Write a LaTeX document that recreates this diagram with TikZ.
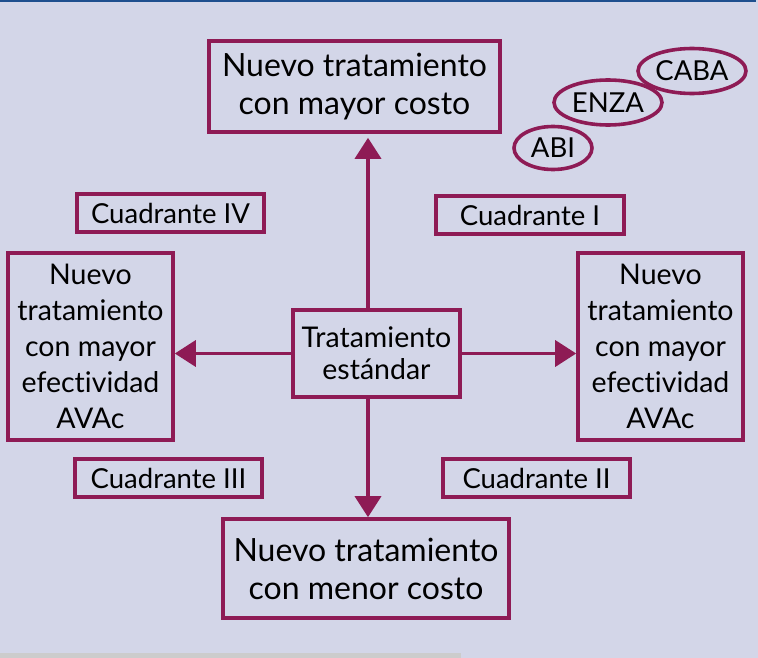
\documentclass[tikz,border=0pt]{standalone}
\usepackage{fontspec}
\setmainfont{Lato}[Ligatures=CommonOff]
\usetikzlibrary{arrows.meta,calc}
\definecolor{bgc}{HTML}{D3D6E8}
\definecolor{brd}{HTML}{8E1B55}
\definecolor{topblue}{HTML}{1E4F8E}
\begin{document}
\begin{tikzpicture}[x=1pt,y=-1pt,
  box/.style={draw=brd,line width=3.6pt,align=center,inner sep=0pt,text=black},
  bigtxt/.style={font=\fontsize{32}{38}\selectfont},
  midtxt/.style={font=\fontsize{28.5}{36}\selectfont},
  cuadtxt/.style={font=\fontsize{27.5}{30}\selectfont},
  ovaltxt/.style={font=\fontsize{27.5}{30}\selectfont},
  arr/.style={draw=brd,line width=3.6pt,-{Triangle[length=21pt,width=26pt]}}]
\useasboundingbox (0,0) rectangle (758,658);
\fill[bgc] (0,0) rectangle (758,658);
\fill[topblue] (0,0) rectangle (756,2.5);
\fill[black!20] (0,653) rectangle (461,658);
% boxes
\node[box,bigtxt,minimum width=291pt,minimum height=91pt] (t) at (354.5,86.5) {Nuevo tratamiento\\con mayor costo};
\node[box,cuadtxt,minimum width=187pt,minimum height=38pt] (q4) at (170.5,213) {Cuadrante IV};
\node[box,cuadtxt,minimum width=188pt,minimum height=38pt] (q1) at (530,215) {Cuadrante I};
\node[box,midtxt,minimum width=165pt,minimum height=187pt] (l) at (90.5,346.5) {Nuevo\\tratamiento\\con mayor\\efectividad\\AVAc};
\node[box,midtxt,minimum width=165pt,minimum height=187pt] (r) at (660.5,346.5) {Nuevo\\tratamiento\\con mayor\\efectividad\\AVAc};
\node[box,font=\fontsize{28.5}{32}\selectfont,minimum width=167pt,minimum height=87pt] (c) at (376.5,353.5) {Tratamiento\\estándar};
\node[box,cuadtxt,minimum width=187pt,minimum height=38pt] (q3) at (168.5,478) {Cuadrante III};
\node[box,cuadtxt,minimum width=187pt,minimum height=38pt] (q2) at (536.5,478) {Cuadrante II};
\node[box,bigtxt,minimum width=286pt,minimum height=99pt] (b) at (366,568.5) {Nuevo tratamiento\\con menor costo};
% ovals
\draw[brd,line width=3.6pt] (692,71) ellipse [x radius=54pt,y radius=22.5pt];
\node[ovaltxt] (caba) at (692,71) {CABA};
\draw[brd,line width=3.6pt] (608,102.5) ellipse [x radius=54pt,y radius=22.5pt];
\node[ovaltxt] (enza) at (608,102.5) {ENZA};
\draw[brd,line width=3.6pt] (553,148) ellipse [x radius=39pt,y radius=21.5pt];
\node[ovaltxt] (abi) at (553,148) {ABI};
% arrows
\coordinate (vx) at (368,0);
\draw[arr] (c.north -| vx) -- ($(t.south -| vx)+(0,4)$);
\draw[arr] (c.south -| vx) -- (b.north -| vx);
\draw[arr] (c.west) -- (l.east |- c.west);
\draw[arr] (c.east) -- (r.west |- c.east);
\end{tikzpicture}
\end{document}
